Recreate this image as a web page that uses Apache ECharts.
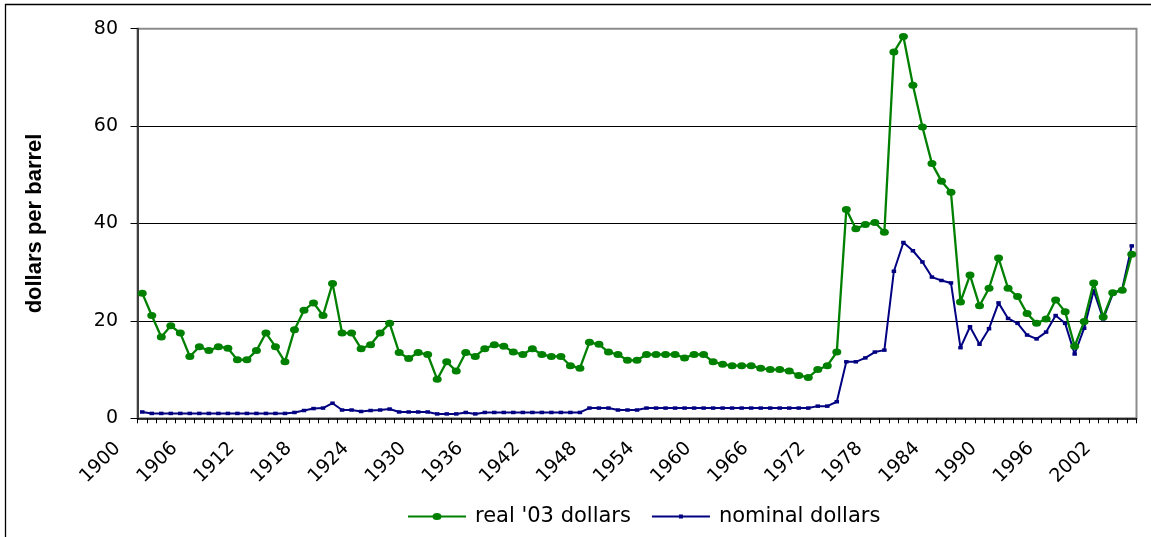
<!DOCTYPE html>
<html>
<head>
<meta charset="utf-8">
<script src="https://cdn.jsdelivr.net/npm/echarts@6/dist/echarts.min.js"></script>
<style>
html,body{margin:0;padding:0;background:#fff;}
#chart{width:1151px;height:537px;}
</style>
</head>
<body>
<div id="chart"></div>
<script>
const years = ['1900','1901','1902','1903','1904','1905','1906','1907','1908','1909',
'1910','1911','1912','1913','1914','1915','1916','1917','1918','1919',
'1920','1921','1922','1923','1924','1925','1926','1927','1928','1929',
'1930','1931','1932','1933','1934','1935','1936','1937','1938','1939',
'1940','1941','1942','1943','1944','1945','1946','1947','1948','1949',
'1950','1951','1952','1953','1954','1955','1956','1957','1958','1959',
'1960','1961','1962','1963','1964','1965','1966','1967','1968','1969',
'1970','1971','1972','1973','1974','1975','1976','1977','1978','1979',
'1980','1981','1982','1983','1984','1985','1986','1987','1988','1989',
'1990','1991','1992','1993','1994','1995','1996','1997','1998','1999',
'2000','2001','2002','2003','2004'];

const xTickLabels = ['1900','1906','1912','1918','1924','1930','1936','1942','1948',
'1954','1960','1966','1972','1978','1984','1990','1996','2002'];

const realDollars = [25.7,21.1,16.7,19.0,17.5,12.7,14.7,13.9,14.7,14.4,
12.0,12.0,13.9,17.5,14.7,11.6,18.2,22.2,23.7,21.1,
27.7,17.5,17.5,14.3,15.1,17.5,19.5,13.5,12.3,13.5,
13.1,8.0,11.6,9.7,13.5,12.7,14.3,15.1,14.8,13.6,
13.1,14.3,13.1,12.7,12.7,10.8,10.3,15.6,15.2,13.6,
13.1,11.9,11.9,13.1,13.1,13.1,13.1,12.4,13.1,13.1,
11.6,11.1,10.8,10.8,10.8,10.3,10.0,10.0,9.7,8.8,
8.4,10.0,10.8,13.6,42.9,38.9,39.8,40.2,38.2,75.2,
78.4,68.4,59.8,52.3,48.7,46.4,23.9,29.4,23.1,26.7,
32.9,26.7,25.0,21.5,19.5,20.4,24.3,21.9,14.8,19.9,
27.8,20.8,25.8,26.3,33.7];

const nominalDollars = [1.3,1.0,1.0,1.0,1.0,1.0,1.0,1.0,1.0,1.0,
1.0,1.0,1.0,1.0,1.0,1.0,1.2,1.6,2.0,2.1,
3.1,1.7,1.7,1.4,1.6,1.7,1.9,1.3,1.3,1.3,
1.3,0.9,0.9,0.9,1.2,0.9,1.2,1.2,1.2,1.2,
1.2,1.2,1.2,1.2,1.2,1.2,1.2,2.1,2.1,2.1,
1.7,1.7,1.7,2.1,2.1,2.1,2.1,2.1,2.1,2.1,
2.1,2.1,2.1,2.1,2.1,2.1,2.1,2.1,2.1,2.1,
2.1,2.5,2.5,3.4,11.6,11.6,12.4,13.6,14.0,30.2,
36.1,34.4,32.1,29.0,28.3,27.8,14.5,18.8,15.2,18.4,
23.7,20.5,19.5,17.1,16.3,17.7,21.1,19.5,13.2,18.5,
26.2,20.4,25.5,26.6,35.4];

const yTicks = [0, 20, 40, 60, 80];
const seriesNames = ["real '03 dollars", 'nominal dollars'];
const yName = 'dollars per barrel';

const chart = echarts.init(document.getElementById('chart'), null, {renderer: 'canvas'});
const tickFont = 'DejaVu Sans';
chart.setOption({
  animation: false,
  backgroundColor: '#ffffff',
  graphic: [{
    type: 'rect', silent: true, z: 100,
    shape: {x: 5.5, y: 4.5, width: 1200, height: 600},
    style: {fill: 'none', stroke: '#000', lineWidth: 1.3}
  }],
  grid: {
    left: 137.5, right: 14.5, top: 28.7, bottom: 118.7,
    show: true, borderColor: '#8c8c8c', borderWidth: 2, backgroundColor: 'transparent'
  },
  legend: {
    left: 403, top: 501,
    itemWidth: 58, itemHeight: 7, itemGap: 21,
    itemStyle: {borderWidth: 0},
    textStyle: {fontFamily: tickFont, fontSize: 21, color: '#000', padding: [0, 0, 0, 4]},
    data: [
      {name: seriesNames[0], icon: 'path://M0 2.5L25 2.5L25 4.5L0 4.5Z M33 2.5L58 2.5L58 4.5L33 4.5Z M24.5 3.5A4.5 3.5 0 1 1 33.5 3.5A4.5 3.5 0 1 1 24.5 3.5Z'},
      {name: seriesNames[1], icon: 'path://M0 2.5L27 2.5L27 4.5L0 4.5Z M31 2.5L58 2.5L58 4.5L31 4.5Z M27 1.6L31 1.6L31 5.4L27 5.4Z M0 0L0.01 0L0.01 0.01Z M0 7L0.01 7L0.01 6.99Z'}
    ]
  },
  xAxis: {
    type: 'category',
    data: years,
    boundaryGap: true,
    axisLine: {show: true, onZero: false, lineStyle: {color: '#000', width: 1.5}},
    axisTick: {show: true, interval: 0, length: 5, lineStyle: {color: '#000', width: 1}},
    axisLabel: {
      interval: 0, rotate: 45, margin: 52, hideOverlap: false,
      fontFamily: tickFont, fontSize: 19, color: '#000',
      align: 'right', verticalAlign: 'bottom', lineHeight: 22,
      padding: [0, 0, 24, 0],
      formatter: function (v) { return xTickLabels.indexOf(v) >= 0 ? v : ''; }
    },
    splitLine: {show: false}
  },
  yAxis: {
    type: 'value',
    min: 0, max: 80, interval: 20,
    name: yName,
    nameLocation: 'middle',
    nameRotate: 90,
    nameGap: 92,
    nameTextStyle: {fontFamily: 'Liberation Sans, Arial', fontWeight: 'bold', fontSize: 22, color: '#000'},
    axisLine: {show: true, lineStyle: {color: '#404040', width: 2}},
    axisTick: {show: true, length: 7, lineStyle: {color: '#000', width: 1}},
    axisLabel: {
      margin: 19.5, fontFamily: tickFont, fontSize: 19, color: '#000',
      formatter: function (v) { return yTicks.indexOf(v) >= 0 ? String(v) : ''; }
    },
    splitLine: {show: true, showMinLine: false, showMaxLine: false, lineStyle: {color: '#000', width: 1}}
  },
  series: [
    {
      name: seriesNames[0], type: 'line', data: realDollars,
      symbol: 'circle', symbolSize: [9, 7], showAllSymbol: true,
      itemStyle: {color: '#008000', borderWidth: 0},
      lineStyle: {color: '#008000', width: 2.3},
      z: 3
    },
    {
      name: seriesNames[1], type: 'line', data: nominalDollars,
      symbol: 'rect', symbolSize: [4.5, 3.5], showAllSymbol: true,
      itemStyle: {color: '#000080', borderWidth: 0},
      lineStyle: {color: '#000080', width: 2},
      z: 2
    }
  ]
});
</script>
</body>
</html>
